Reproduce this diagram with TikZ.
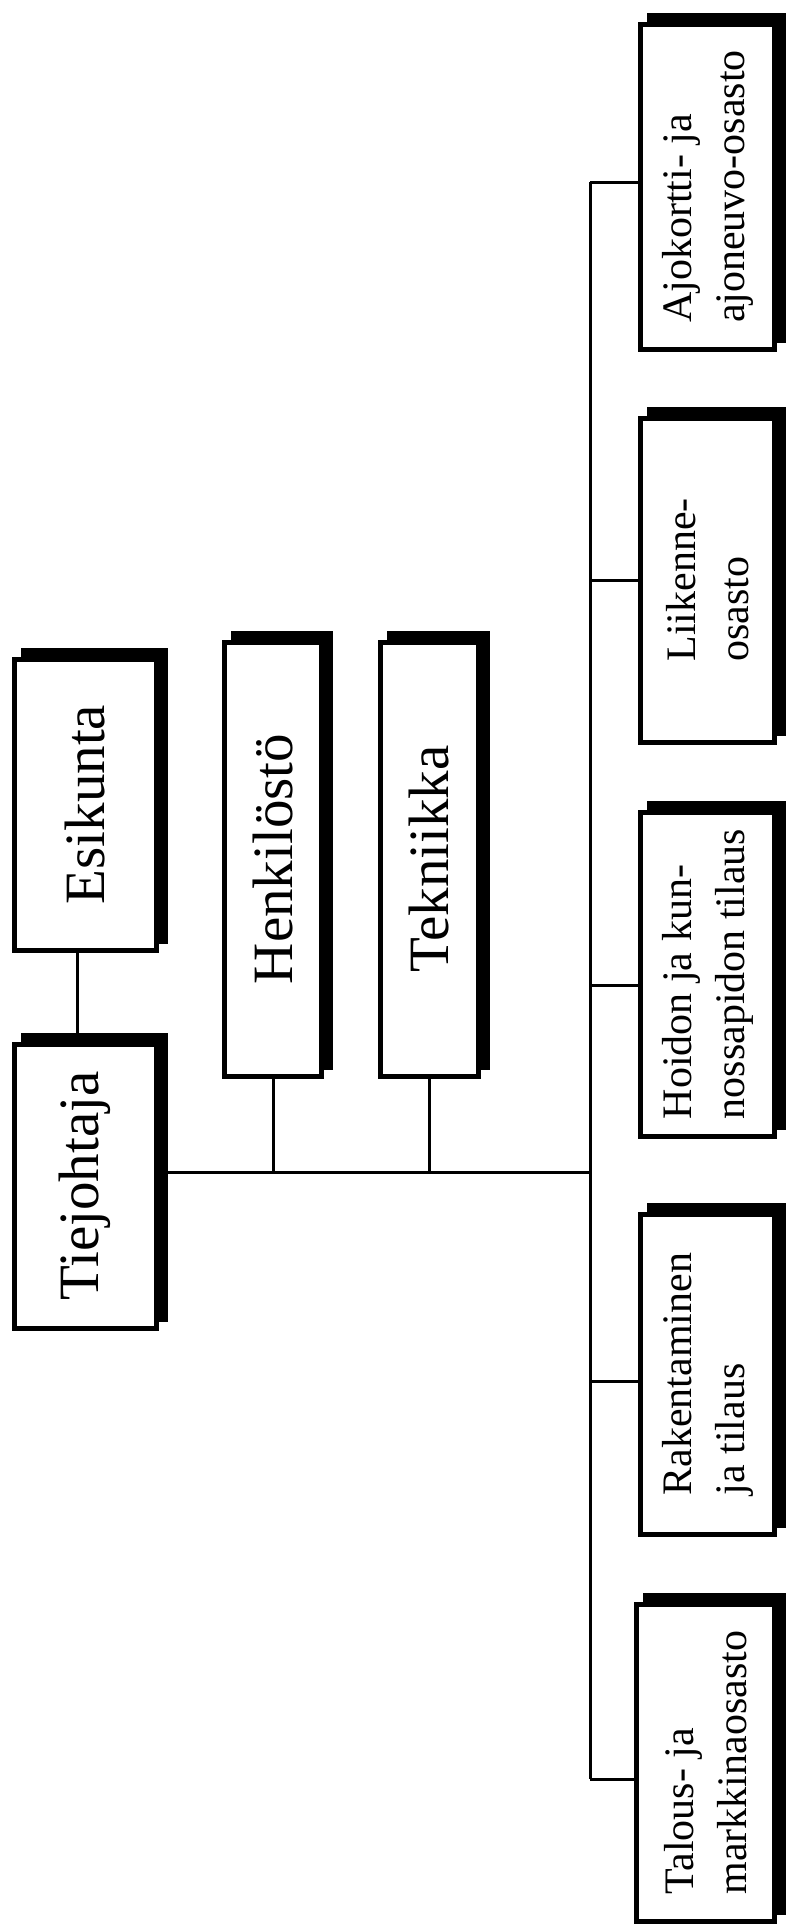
\documentclass[tikz,border=0pt]{standalone}
\usepackage{fontspec}
\setmainfont{Liberation Serif}
\usetikzlibrary{backgrounds}
\begin{document}
\begin{tikzpicture}[x=1pt,y={(0,-1pt)},
  box/.style={draw=black, line width=5pt, fill=white, rotate=90, inner sep=0pt, anchor=center},
  big/.style={font=\fontsize{57}{60}\selectfont},
  small/.style={font=\fontsize{42}{53}\selectfont, align=left},
  conn/.style={line width=3pt},
  shadowfill/.style={fill=black}
]
\useasboundingbox (0,0) rectangle (790,1930);

% top management boxes
\node[box,big,minimum width=284pt,minimum height=142pt] (tie) at (85,1186) {Tiejohtaja};
\node[box,big,minimum width=291pt,minimum height=142pt] (esi) at (85,804.5) {Esikunta};
\node[box,big,minimum width=434pt,minimum height=97pt] (hen) at (273,859) {Henkilöstö};
\node[box,big,minimum width=434pt,minimum height=98pt] (tek) at (429,859) {Tekniikka};

% departments
\node[box,small,minimum width=325pt,minimum height=134pt] (ajo) at (707.5,186.5) {Ajokortti- ja\\ajoneuvo-osasto};
\node[box,small,minimum width=324pt,minimum height=134pt] (lii) at (707.5,580) {Liikenne-\\osasto};
\node[box,small,minimum width=324pt,minimum height=134pt] (hoi) at (707.5,974) {Hoidon ja kun-\\nossapidon tilaus};
\node[box,small,minimum width=320pt,minimum height=134pt] (rak) at (707.5,1374) {Rakentaminen\\ja tilaus};
\node[box,small,minimum width=317pt,minimum height=138pt] (tal) at (705.5,1762.5) {Talous- ja\\markkinaosasto};

% junction points
\coordinate (b1) at (590,182);
\coordinate (b2) at (590,580);
\coordinate (b3) at (590,985);
\coordinate (b4) at (590,1381);
\coordinate (b5) at (590,1779);
\coordinate (j) at (590,1172);

% connectors
\draw[conn] ([xshift=-8pt]esi.west) -- ([xshift=-8pt]tie.east);
\draw[conn] (j -| tie.south) -- (j);
\draw[conn] (hen.west) -- (hen.west |- j);
\draw[conn] (tek.west) -- (tek.west |- j);
\draw[conn] (b1) -- (b5);
\draw[conn] (b1) -- (b1 -| ajo.north);
\draw[conn] (b2) -- (b2 -| lii.north);
\draw[conn] (b3) -- (b3 -| hoi.north);
\draw[conn] (b4) -- (b4 -| rak.north);
\draw[conn] (b5) -- (b5 -| tal.north);

% background and shadows
\begin{scope}[on background layer]
  \fill[white] (0,0) rectangle (790,1930);
  \foreach \n in {tie,esi,hen,tek,ajo,lii,hoi,rak,tal}{
    \fill[shadowfill] ([shift={(9,-9)}]\n.south west) rectangle ([shift={(9,-9)}]\n.north east);
  }
\end{scope}
\end{tikzpicture}
\end{document}
